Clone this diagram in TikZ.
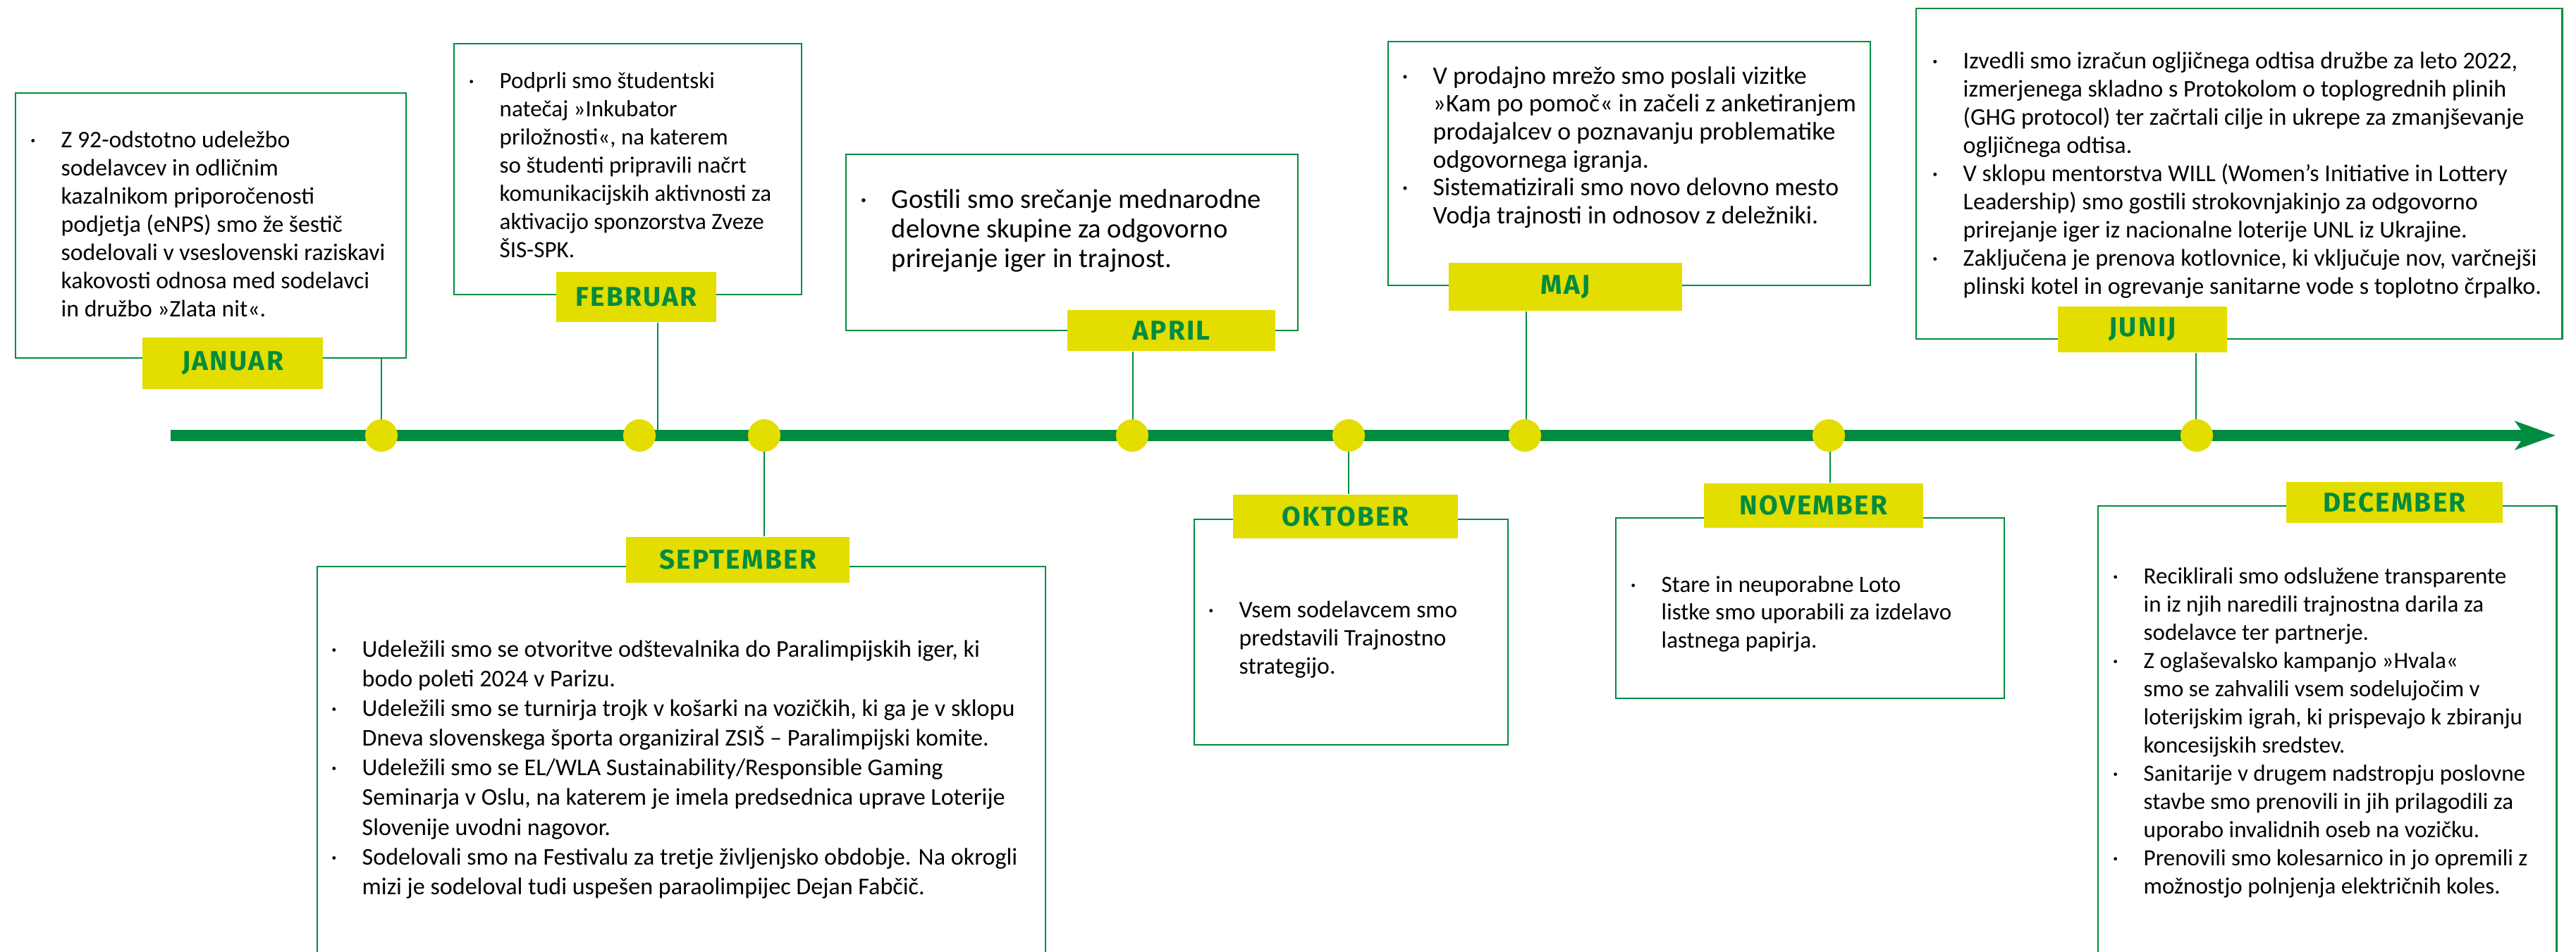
\documentclass[tikz,border=0pt]{standalone}
\usepackage{fontspec}
\setmainfont{Carlito}
\newfontfamily\monthfont[LetterSpace=6]{Fira Sans}
\usepackage{tikz}
\usetikzlibrary{arrows.meta}
\definecolor{tlgreen}{RGB}{0,140,64}
\definecolor{tlyellow}{RGB}{227,221,0}
\newcommand{\bul}{\textperiodcentered}

\begin{document}
\begin{tikzpicture}[x=1cm,y=-1cm,
    evbox/.style={draw=tlgreen,line width=0.7pt,inner sep=0pt,anchor=north west},
    monthlab/.style={fill=tlyellow,inner sep=0pt,text=tlgreen,font=\monthfont\bfseries\fontsize{11}{13}\selectfont},
    evtext/.style={anchor=base west,inner sep=0pt,font=\fontsize{9.6}{11.4}\selectfont},
    mdot/.style={circle,fill=tlyellow,inner sep=0pt,minimum size=0.46cm},
    tickline/.style={draw=tlgreen,line width=0.6pt}]
    \useasboundingbox (0,0) rectangle (36.54,13.5);
    \clip (0,0) rectangle (36.54,13.5);
    % ===== boxes =====
    \node[evbox,minimum width=5.54cm,minimum height=3.76cm] (janBox) at (0.21,1.31) {};
    \node[evbox,minimum width=4.93cm,minimum height=3.56cm] (febBox) at (6.43,0.61) {};
    \node[evbox,minimum width=10.33cm,minimum height=6cm] (sepBox) at (4.49,8.03) {};
    \node[evbox,minimum width=6.41cm,minimum height=2.50cm] (aprBox) at (11.99,2.18) {};
    \node[evbox,minimum width=4.45cm,minimum height=3.2cm] (oktBox) at (16.93,7.36) {};
    \node[evbox,minimum width=6.84cm,minimum height=3.46cm] (majBox) at (19.68,0.58) {};
    \node[evbox,minimum width=5.51cm,minimum height=2.56cm] (novBox) at (22.91,7.34) {};
    \node[evbox,minimum width=9.16cm,minimum height=4.69cm] (junBox) at (27.17,0.11) {};
    \node[evbox,minimum width=6.5cm,minimum height=6.5cm] (decBox) at (29.75,7.17) {};
    % ===== month labels =====
    \node[monthlab,minimum width=2.56cm,minimum height=0.73cm] (janLab) at (3.30,5.155) {JANUAR};
    \node[monthlab,minimum width=2.27cm,minimum height=0.71cm] (febLab) at (9.025,4.215) {FEBRUAR};
    \node[monthlab,minimum width=3.17cm,minimum height=0.65cm] (sepLab) at (10.465,7.945) {SEPTEMBER};
    \node[monthlab,minimum width=2.95cm,minimum height=0.58cm] (aprLab) at (16.615,4.69) {APRIL};
    \node[monthlab,minimum width=3.19cm,minimum height=0.62cm] (oktLab) at (19.085,7.33) {OKTOBER};
    \node[monthlab,minimum width=3.31cm,minimum height=0.68cm] (majLab) at (22.205,4.07) {MAJ};
    \node[monthlab,minimum width=3.11cm,minimum height=0.63cm] (novLab) at (25.725,7.17) {NOVEMBER};
    \node[monthlab,minimum width=2.40cm,minimum height=0.65cm] (junLab) at (30.39,4.675) {JUNIJ};
    \node[monthlab,minimum width=3.07cm,minimum height=0.58cm] (decLab) at (33.965,7.13) {DECEMBER};
    % ===== texts =====
    \node[evtext] (janTxt) at (0.42,2.09) {\begin{tabular}[t]{@{}p{0.44cm}@{}l@{}}
      \bul & Z 92-odstotno udeležbo\\
      & sodelavcev in odličnim\\
      & kazalnikom priporočenosti\\
      & podjetja (eNPS) smo že šestič\\
      & sodelovali v vseslovenski raziskavi\\
      & kakovosti odnosa med sodelavci\\
      & in družbo »Zlata nit«.
    \end{tabular}};
    \node[evtext,font=\fontsize{9.4}{11.4}\selectfont] (febTxt) at (6.64,1.25) {\begin{tabular}[t]{@{}p{0.44cm}@{}l@{}}
      \bul & Podprli smo študentski\\
      & natečaj »Inkubator\\
      & priložnosti«, na katerem\\
      & so študenti pripravili načrt\\
      & komunikacijskih aktivnosti za\\
      & aktivacijo sponzorstva Zveze\\
      & ŠIS-SPK.
    \end{tabular}};
    \node[evtext,font=\fontsize{9.7}{12}\selectfont] (sepTxt) at (4.69,9.32) {\begin{tabular}[t]{@{}p{0.44cm}@{}l@{}}
      \bul & Udeležili smo se otvoritve odštevalnika do Paralimpijskih iger, ki\\
      & bodo poleti 2024 v Parizu.\\
      \bul & Udeležili smo se turnirja trojk v košarki na vozičkih, ki ga je v sklopu\\
      & Dneva slovenskega športa organiziral ZSIŠ – Paralimpijski komite.\\
      \bul & Udeležili smo se EL/WLA Sustainability/Responsible Gaming\\
      & Seminarja v Oslu, na katerem je imela predsednica uprave Loterije\\
      & Slovenije uvodni nagovor.\\
      \bul & Sodelovali smo na Festivalu za tretje življenjsko obdobje. Na okrogli\\
      & mizi je sodeloval tudi uspešen paraolimpijec Dejan Fabčič.
    \end{tabular}};
    \node[evtext,font=\fontsize{11}{12}\selectfont] (aprTxt) at (12.20,2.95) {\begin{tabular}[t]{@{}p{0.44cm}@{}l@{}}
      \bul & Gostili smo srečanje mednarodne\\
      & delovne skupine za odgovorno\\
      & prirejanje iger in trajnost.
    \end{tabular}};
    \node[evtext] (oktTxt) at (17.13,8.76) {\begin{tabular}[t]{@{}p{0.44cm}@{}l@{}}
      \bul & Vsem sodelavcem smo\\
      & predstavili Trajnostno\\
      & strategijo.
    \end{tabular}};
    \node[evtext,font=\fontsize{10.2}{11.3}\selectfont] (majTxt) at (19.88,1.19) {\begin{tabular}[t]{@{}p{0.44cm}@{}l@{}}
      \bul & V prodajno mrežo smo poslali vizitke\\
      & »Kam po pomoč« in začeli z anketiranjem\\
      & prodajalcev o poznavanju problematike\\
      & odgovornega igranja.\\
      \bul & Sistematizirali smo novo delovno mesto\\
      & Vodja trajnosti in odnosov z deležniki.
    \end{tabular}};
    \node[evtext,font=\fontsize{9.4}{11.3}\selectfont] (novTxt) at (23.12,8.40) {\begin{tabular}[t]{@{}p{0.44cm}@{}l@{}}
      \bul & Stare in neuporabne Loto\\
      & listke smo uporabili za izdelavo\\
      & lastnega papirja.
    \end{tabular}};
    \node[evtext,font=\fontsize{9.7}{11.4}\selectfont] (junTxt) at (27.40,0.97) {\begin{tabular}[t]{@{}p{0.44cm}@{}l@{}}
      \bul & Izvedli smo izračun ogljičnega odtisa družbe za leto 2022,\\
      & izmerjenega skladno s Protokolom o toplogrednih plinih\\
      & (GHG protocol) ter začrtali cilje in ukrepe za zmanjševanje\\
      & ogljičnega odtisa.\\
      \bul & V sklopu mentorstva WILL (Women’s Initiative in Lottery\\
      & Leadership) smo gostili strokovnjakinjo za odgovorno\\
      & prirejanje iger iz nacionalne loterije UNL iz Ukrajine.\\
      \bul & Zaključena je prenova kotlovnice, ki vključuje nov, varčnejši\\
      & plinski kotel in ogrevanje sanitarne vode s toplotno črpalko.
    \end{tabular}};
    \node[evtext,font=\fontsize{9.4}{11.4}\selectfont] (decTxt) at (29.96,8.28) {\begin{tabular}[t]{@{}p{0.44cm}@{}l@{}}
      \bul & Reciklirali smo odslužene transparente\\
      & in iz njih naredili trajnostna darila za\\
      & sodelavce ter partnerje.\\
      \bul & Z oglaševalsko kampanjo »Hvala«\\
      & smo se zahvalili vsem sodelujočim v\\
      & loterijskim igrah, ki prispevajo k zbiranju\\
      & koncesijskih sredstev.\\
      \bul & Sanitarije v drugem nadstropju poslovne\\
      & stavbe smo prenovili in jih prilagodili za\\
      & uporabo invalidnih oseb na vozičku.\\
      \bul & Prenovili smo kolesarnico in jo opremili z\\
      & možnostjo polnjenja električnih koles.
    \end{tabular}};
    % ===== timeline =====
    \coordinate (lineStart) at (2.42,6.18);
    \coordinate (lineEnd) at (36.25,6.18);
    \draw[tlgreen,line width=0.16cm,-{Stealth[length=0.57cm,width=0.40cm,inset=0.14cm]}] (lineStart) -- (lineEnd);
    \coordinate (febTick) at (9.33,6.18);
    \coordinate (janTick) at (5.41,6.18);
    \coordinate (sepTick) at (10.84,6.18);
    \coordinate (aprTick) at (16.07,6.18);
    \coordinate (oktTick) at (19.13,6.18);
    \coordinate (majTick) at (21.65,6.18);
    \coordinate (novTick) at (25.96,6.18);
    \coordinate (junTick) at (31.15,6.18);
    \draw[tickline] (janTick) -- (janTick |- janBox.south);
    \draw[tickline] (febTick) -- (febTick |- febLab.south);
    \draw[tickline] (sepTick) -- (sepTick |- sepLab.north);
    \draw[tickline] (aprTick) -- (aprTick |- aprLab.south);
    \draw[tickline] (oktTick) -- (oktTick |- oktLab.north);
    \draw[tickline] (majTick) -- (majTick |- majLab.south);
    \draw[tickline] (novTick) -- (novTick |- novLab.north);
    \draw[tickline] (junTick) -- (junTick |- junLab.south);
    % ===== dots =====
    \node[mdot] (janDot) at (5.41,6.18) {};
    \node[mdot] (febDot) at (9.07,6.18) {};
    \node[mdot] (sepDot) at (10.84,6.18) {};
    \node[mdot] (aprDot) at (16.06,6.18) {};
    \node[mdot] (oktDot) at (19.13,6.18) {};
    \node[mdot] (majDot) at (21.63,6.18) {};
    \node[mdot] (novDot) at (25.94,6.18) {};
    \node[mdot] (junDot) at (31.16,6.18) {};
\end{tikzpicture}
\end{document}
